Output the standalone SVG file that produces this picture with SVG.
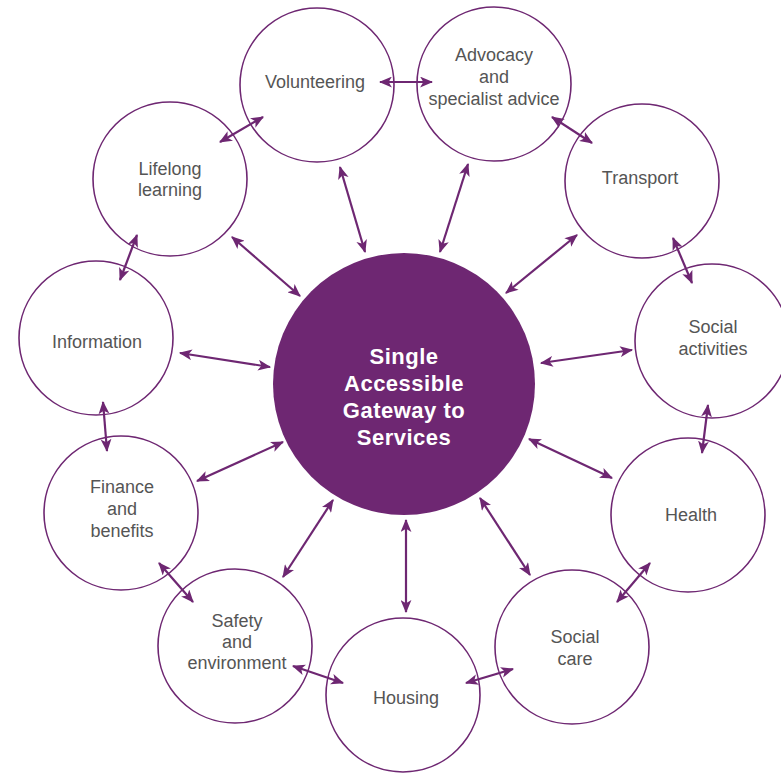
<svg xmlns="http://www.w3.org/2000/svg" width="781" height="776" viewBox="0 0 781 776">
<style>
.node{fill:#fff;stroke:#6e2772;stroke-width:1.6}
.lbl{font-family:"Liberation Sans",Arial,sans-serif;font-size:18px;fill:#555;text-anchor:middle}
.hub{fill:#6e2772}
.hubt{font-family:"Liberation Sans",Arial,sans-serif;font-size:22px;font-weight:bold;fill:#fff;text-anchor:middle;letter-spacing:0.5px}
.con line{stroke:#6e2772;stroke-width:2.2;marker-start:url(#ah);marker-end:url(#ah)}
</style>
<defs>
<marker id="ah" viewBox="0 0 12 10" refX="11" refY="5" markerWidth="13" markerHeight="11" markerUnits="userSpaceOnUse" orient="auto-start-reverse">
<path d="M0,0 L12,5 L0,10 L3,5 Z" fill="#6e2772"/>
</marker>
</defs>
<rect width="781" height="776" fill="#fff"/>

<g id="hub">
<circle class="hub" cx="404" cy="384" r="131"/>
<text class="hubt"><tspan x="404" y="364">Single</tspan><tspan x="404" y="391">Accessible</tspan><tspan x="404" y="418">Gateway to</tspan><tspan x="404" y="445">Services</tspan></text>
</g>

<g id="volunteering"><circle class="node" cx="317" cy="85" r="77"/><text class="lbl" x="315" y="88">Volunteering</text></g>
<g id="advocacy"><circle class="node" cx="494" cy="84" r="77"/><text class="lbl"><tspan x="494" y="61">Advocacy</tspan><tspan x="494" y="83">and</tspan><tspan x="494" y="105">specialist advice</tspan></text></g>
<g id="transport"><circle class="node" cx="642" cy="181" r="77"/><text class="lbl" x="640" y="184">Transport</text></g>
<g id="social-activities"><circle class="node" cx="712" cy="341" r="77"/><text class="lbl"><tspan x="713" y="333">Social</tspan><tspan x="713" y="355">activities</tspan></text></g>
<g id="health"><circle class="node" cx="688" cy="515" r="77"/><text class="lbl" x="691" y="521">Health</text></g>
<g id="social-care"><circle class="node" cx="572" cy="647" r="77"/><text class="lbl"><tspan x="575" y="643">Social</tspan><tspan x="575" y="665">care</tspan></text></g>
<g id="housing"><circle class="node" cx="403" cy="695" r="77"/><text class="lbl" x="406" y="704">Housing</text></g>
<g id="safety"><circle class="node" cx="235" cy="646" r="77"/><text class="lbl"><tspan x="237" y="627">Safety</tspan><tspan x="237" y="648">and</tspan><tspan x="237" y="669">environment</tspan></text></g>
<g id="finance"><circle class="node" cx="121" cy="513" r="77"/><text class="lbl"><tspan x="122" y="493">Finance</tspan><tspan x="122" y="515">and</tspan><tspan x="122" y="537">benefits</tspan></text></g>
<g id="information"><circle class="node" cx="96" cy="338" r="77"/><text class="lbl" x="97" y="348">Information</text></g>
<g id="lifelong"><circle class="node" cx="170" cy="179" r="77"/><text class="lbl"><tspan x="170" y="175">Lifelong</tspan><tspan x="170" y="196">learning</tspan></text></g>

<g id="connectors" class="con">
<line x1="380" y1="82" x2="432" y2="82"/>
<line x1="220" y1="142" x2="263" y2="117"/>
<line x1="552" y1="117" x2="592" y2="143"/>
<line x1="673" y1="238" x2="692" y2="283"/>
<line x1="708" y1="405" x2="702" y2="453"/>
<line x1="650" y1="563" x2="617" y2="602"/>
<line x1="513" y1="669" x2="466" y2="683"/>
<line x1="343" y1="683" x2="293" y2="666"/>
<line x1="159" y1="563" x2="193" y2="602"/>
<line x1="103" y1="402" x2="107" y2="451"/>
<line x1="137" y1="235" x2="120" y2="280"/>
<line x1="340" y1="167" x2="365" y2="252"/>
<line x1="468" y1="164" x2="440" y2="252"/>
<line x1="577" y1="235" x2="506" y2="293"/>
<line x1="632" y1="350" x2="541" y2="363"/>
<line x1="612" y1="478" x2="529" y2="439"/>
<line x1="530" y1="575" x2="480" y2="498"/>
<line x1="406" y1="520" x2="406" y2="612"/>
<line x1="333" y1="500" x2="283" y2="577"/>
<line x1="283" y1="442" x2="197" y2="481"/>
<line x1="180" y1="353" x2="270" y2="367"/>
<line x1="232" y1="237" x2="300" y2="296"/>
</g>
</svg>
